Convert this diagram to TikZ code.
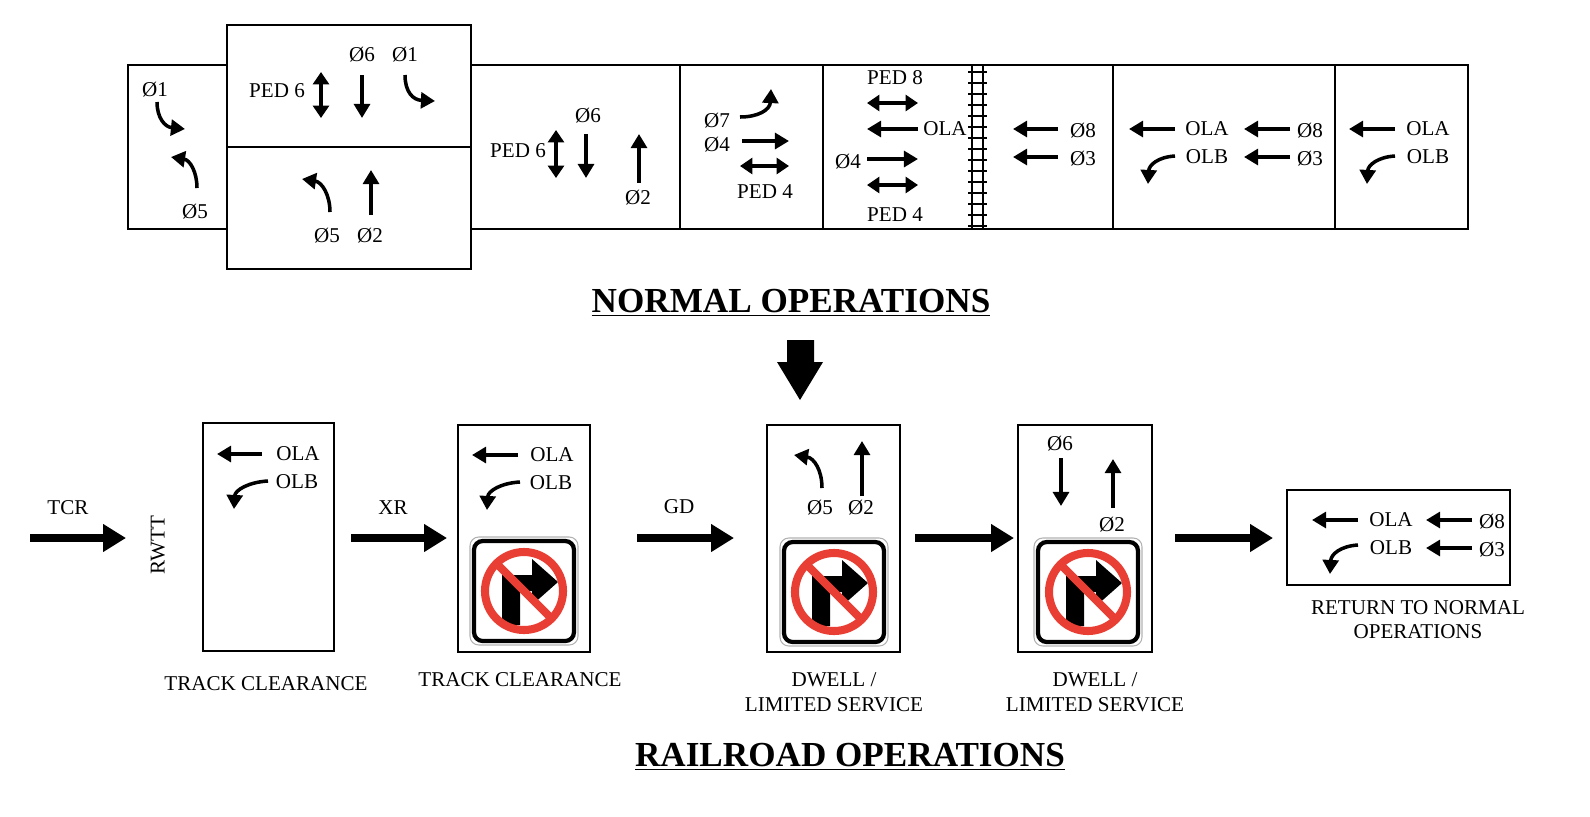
\documentclass[tikz,border=0pt]{standalone}
\usepackage{fontspec}
\setmainfont{Liberation Serif}
\usetikzlibrary{arrows.meta}

\definecolor{signred}{RGB}{232,62,52}

% no right turn sign, centre given in picture units
\newcommand{\norightsign}[2]{%
  \begin{scope}[shift={(#1,#2)}]
    \draw[gray!60, line width=0.6pt, rounded corners=5] (-54,-54) rectangle (54,54);
    \draw[black, line width=2.4pt, rounded corners=5] (-50,-50) rectangle (50,50);
    \fill (-22,34) -- (-22,-16) -- (8,-16) -- (8,-32) -- (34,-9) -- (8,14) -- (8,0) -- (-4,0) -- (-4,34) -- cycle;
    \draw[signred, line width=4.6pt] (0,0) circle (39);
    \draw[signred, line width=4.6pt] (-28,-28) -- (28,28);
  \end{scope}}

\begin{document}
\begin{tikzpicture}[x=0.02cm, y=-0.02cm,
  font=\fontsize{12}{14}\selectfont,
  box/.style={line width=0.9pt},
  sig/.style={line width=2pt, -{Triangle[length=8pt,width=9pt]}},
  ped/.style={line width=2pt, {Triangle[length=7pt,width=9pt]}-{Triangle[length=7pt,width=9pt]}},
  flow/.style={line width=4.5pt, -{Triangle[length=13pt,width=15pt]}},
  title/.style={font=\fontsize{20}{24}\selectfont\bfseries}]

\useasboundingbox (0,0) rectangle (1590,816);

% -------- Normal operations strip -----------
\draw[box] (128,65) rectangle (1468,229);
\draw[box, fill=white] (227,25) rectangle (471,269);
\draw[box] (227,147) -- (471,147);
\foreach \xx in {680,823,1113,1335}
  \draw[box] (\xx,65) -- (\xx,229);

% railroad track
\draw[box] (972,66) -- (972,228);
\draw[box] (983,66) -- (983,228);
\foreach \yy in {72,83,...,226}
  \draw[line width=0.6pt] (968,\yy) -- (987,\yy);

% box 1
\node at (155,90) {Ø1};
\draw[sig] (157,102) .. controls (157,118) and (165,127) .. (185,129);
\node at (195,212) {Ø5};
\draw[sig] (197,188) .. controls (197,172) and (190,160) .. (171,157);

% box 2 top
\node at (277,91) {PED 6};
\draw[ped] (321,72) -- (321,118);
\node at (362,55) {Ø6};
\draw[sig] (362,75) -- (362,118);
\node at (405,55) {Ø1};
\draw[sig] (405,75) .. controls (405,92) and (413,100) .. (435,101);

% box 2 bottom
\draw[sig] (330,212) .. controls (330,195) and (322,182) .. (302,179);
\draw[sig] (371,215) -- (371,170);
\node at (327,236) {Ø5};
\node at (370,236) {Ø2};

% box 3
\node at (518,151) {PED 6};
\draw[ped] (556,130) -- (556,178);
\node at (588,116) {Ø6};
\draw[sig] (586,134) -- (586,178);
\draw[sig] (639,183) -- (639,134);
\node at (638,198) {Ø2};

% box 4
\node at (717,121) {Ø7};
\draw[sig] (740,117) .. controls (758,117) and (770,110) .. (771,89);
\node at (717,145) {Ø4};
\draw[sig] (742,141) -- (789,141);
\draw[ped] (740,166) -- (789,166);
\node at (765,192) {PED 4};

% box 5
\node at (895,78) {PED 8};
\draw[ped] (867,103) -- (918,103);
\draw[sig] (918,129) -- (867,129);
\node at (945,129) {OLA};
\node at (848,162) {Ø4};
\draw[sig] (867,159) -- (918,159);
\draw[ped] (867,185) -- (918,185);
\node at (895,215) {PED 4};
\draw[sig] (1058,129) -- (1013,129);
\node at (1083,131) {Ø8};
\draw[sig] (1058,157) -- (1013,157);
\node at (1083,159) {Ø3};

% box 6
\draw[sig] (1175,129) -- (1129,129);
\node at (1207,129) {OLA};
\draw[sig] (1290,129) -- (1244,129);
\node at (1310,131) {Ø8};
\draw[sig] (1175,156) .. controls (1158,157) and (1149,165) .. (1148,184);
\node at (1207,157) {OLB};
\draw[sig] (1290,157) -- (1244,157);
\node at (1310,159) {Ø3};

% box 7
\draw[sig] (1395,129) -- (1349,129);
\node at (1428,129) {OLA};
\draw[sig] (1395,156) .. controls (1378,157) and (1368,165) .. (1367,184);
\node at (1428,157) {OLB};

\node[title] at (791,303) {\underline{NORMAL OPERATIONS}};

% big down arrow
\fill (787,340) -- (814,340) -- (814,362) -- (823,362) -- (800,400) -- (777,362) -- (787,362) -- cycle;

% -------- Railroad operations -----------
\node at (68,508) {TCR};
\draw[flow] (30,538) -- (126,538);
\node[rotate=90] at (158,545) {RWTT};

% track clearance 1
\draw[box] (203,423) rectangle (334,651);
\draw[sig] (262,454) -- (217,454);
\node at (298,454) {OLA};
\draw[sig] (268,481) .. controls (249,482) and (235,490) .. (234,509);
\node at (297,482) {OLB};
\node at (266,684) {TRACK CLEARANCE};

\node at (393,508) {XR};
\draw[flow] (351,538) -- (447,538);

% track clearance 2
\draw[box] (458,425) rectangle (590,652);
\draw[sig] (518,455) -- (472,455);
\node at (552,455) {OLA};
\draw[sig] (520,482) .. controls (501,483) and (488,491) .. (487,510);
\node at (551,483) {OLB};
\norightsign{524}{591}
\node at (520,680) {TRACK CLEARANCE};

\node at (679,507) {GD};
\draw[flow] (637,538) -- (734,538);

% dwell 1
\draw[box] (767,425) rectangle (900,652);
\draw[sig] (822,488) .. controls (822,470) and (814,458) .. (794,455);
\draw[sig] (862,496) -- (862,441);
\node at (820,508) {Ø5};
\node at (861,508) {Ø2};
\norightsign{834}{592}
\node at (834,680) {DWELL /};
\node at (834,705) {LIMITED SERVICE};

\draw[flow] (915,538) -- (1014,538);

% dwell 2
\draw[box] (1018,425) rectangle (1152,652);
\node at (1060,444) {Ø6};
\draw[sig] (1061,458) -- (1061,506);
\draw[sig] (1113,508) -- (1113,459);
\node at (1112,525) {Ø2};
\norightsign{1088}{592}
\node at (1095,680) {DWELL /};
\node at (1095,705) {LIMITED SERVICE};

\draw[flow] (1175,538) -- (1273,538);

% return to normal
\draw[box] (1287,490) rectangle (1510,585);
\draw[sig] (1358,520) -- (1312,520);
\node at (1391,520) {OLA};
\draw[sig] (1472,520) -- (1426,520);
\node at (1492,522) {Ø8};
\draw[sig] (1358,545) .. controls (1341,546) and (1331,554) .. (1330,574);
\node at (1391,548) {OLB};
\draw[sig] (1472,548) -- (1426,548);
\node at (1492,550) {Ø3};
\node at (1418,608) {RETURN TO NORMAL};
\node at (1418,632) {OPERATIONS};

\node[title] at (850,757) {\underline{RAILROAD OPERATIONS}};

\end{tikzpicture}
\end{document}
